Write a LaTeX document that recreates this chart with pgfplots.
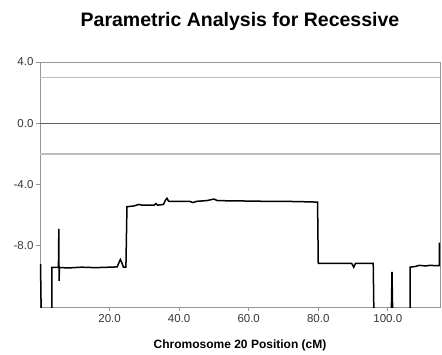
\documentclass[border=0pt]{standalone}
\usepackage{fontspec}
\setmainfont{Liberation Sans}
\usepackage{pgfplots}
\pgfplotsset{compat=1.18}
\usetikzlibrary{calc}
\definecolor{spine}{RGB}{150,150,150}
\definecolor{refline}{RGB}{190,190,190}
\definecolor{zeroline}{RGB}{200,50,60}
\definecolor{ticktext}{RGB}{55,55,55}

\begin{document}
\begin{tikzpicture}
\begin{axis}[
    scale only axis,
    width=400pt, height=245pt,
    xmin=0, xmax=115,
    ymin=-12, ymax=4,
    axis line style={spine, line width=0.9pt},
    tick style={spine, line width=0.8pt},
    tick align=outside,
    major tick length=4pt,
    xtick pos=bottom, ytick pos=left,
    xtick={20,40,60,80,100},
    xticklabels={20.0,40.0,60.0,80.0,100.0},
    ytick={-8,-4,0,4},
    yticklabels={-8.0,-4.0,0.0,4.0},
    tick label style={font=\fontsize{11.5}{13}\selectfont, text=ticktext},
    yticklabel style={xshift=1pt},
    clip=true,
]

% threshold lines
\addplot[refline, line width=1.3pt] coordinates {(0,3) (115,3)};
\addplot[refline, line width=1.3pt] coordinates {(0,-2) (115,-2)};
\addplot[zeroline, line width=0.8pt] coordinates {(0,0) (115,0)};

% LOD score curve
\addplot[black, line width=1.5pt, line join=miter] coordinates {
    (0.15,-9.2) (0.35,-12.5) (3.4,-12.5) (3.4,-9.42) (5.3,-9.42)
    (5.42,-6.9) (5.48,-10.3) (5.6,-9.42)
    (8,-9.45) (12,-9.4) (16,-9.43) (20,-9.4) (22.2,-9.38)
    (22.7,-9.1) (23.1,-8.9) (23.5,-9.1) (24,-9.4) (24.7,-9.4)
    (25.0,-5.45) (27,-5.4) (28.5,-5.3) (29.3,-5.35) (31,-5.35)
    (32.8,-5.35) (33.3,-5.25) (33.8,-5.35) (35.5,-5.3)
    (36,-5.05) (36.5,-4.9) (37,-5.1) (40,-5.1) (43,-5.1) (44,-5.18)
    (45,-5.1) (48,-5.05) (50,-4.95) (51,-5.05) (55,-5.07) (60,-5.08)
    (65,-5.1) (70,-5.1) (75,-5.12) (79.8,-5.15)
    (80,-9.15) (85,-9.15) (89.6,-9.15) (90.2,-9.4) (90.7,-9.15)
    (95.8,-9.15) (96,-12.5) (101,-12.5) (101.2,-9.7) (101.4,-12.5)
    (106.4,-12.5) (106.4,-9.4) (108,-9.35) (109,-9.28) (111,-9.32)
    (112,-9.28) (114,-9.3) (114.8,-9.3) (114.85,-7.8)
};
\end{axis}
\node[font=\fontsize{19.5}{23}\selectfont\bfseries] at ($(current axis.north)+(0,41pt)$) {Parametric Analysis for Recessive};
\node[font=\fontsize{12}{14}\selectfont\bfseries] at ($(current axis.south)+(0,-38pt)$) {Chromosome 20 Position (cM)};
\path ($(current axis.south west)+(-40pt,-47pt)$) rectangle ($(current axis.north east)+(2pt,62pt)$);
\end{tikzpicture}
\end{document}
